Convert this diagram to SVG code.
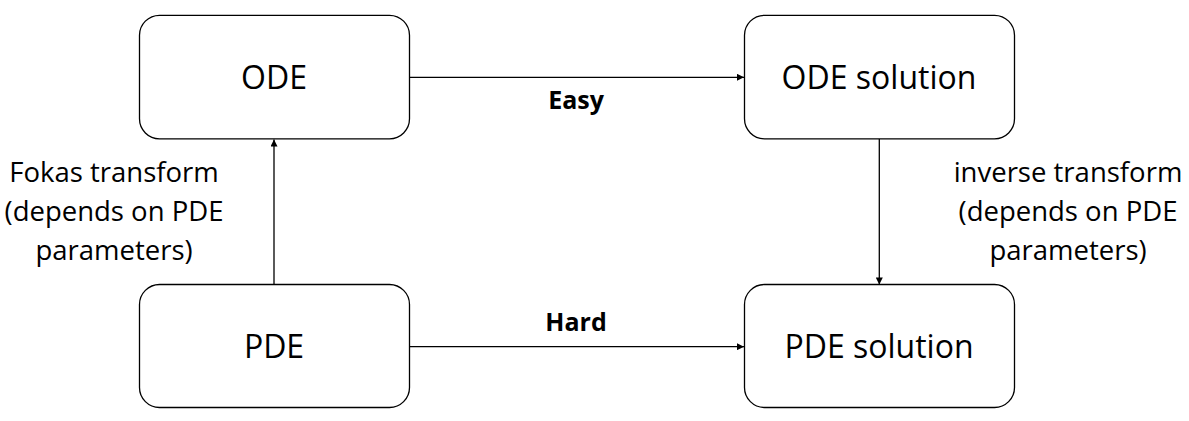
<svg xmlns="http://www.w3.org/2000/svg" width="1189" height="421" viewBox="0 0 1189 421">
<style>
.box{fill:#fff;stroke:#000;stroke-width:1.3}
.t{font-family:"Open Sans","Noto Sans",sans-serif;font-size:32px;fill:#000;text-anchor:middle}
.lbl{font-family:"Open Sans","Noto Sans",sans-serif;font-size:27.5px;fill:#000;text-anchor:middle}
.b{font-family:"Open Sans","Noto Sans",sans-serif;font-size:25px;font-weight:bold;fill:#000;text-anchor:middle}
.c{stroke:#000;stroke-width:1.3;fill:none;marker-end:url(#ah)}
</style>
<defs>
<marker id="ah" viewBox="0 0 10 10" refX="10" refY="5" markerWidth="9" markerHeight="7" markerUnits="userSpaceOnUse" orient="auto">
<path d="M0,0 L10,5 L0,10 z" fill="#000"/>
</marker>
</defs>
<rect width="1189" height="421" fill="#fff"/>
<g id="connectors">
<line class="c" x1="409.5" y1="77.3" x2="744" y2="77.3"/>
<line class="c" x1="409.5" y1="346.7" x2="744" y2="346.7"/>
<line class="c" x1="274" y1="284.5" x2="274" y2="139.5"/>
<line class="c" x1="879.3" y1="139" x2="879.3" y2="284.5"/>
<text class="b" x="576" y="109">Easy</text>
<text class="b" x="576" y="331">Hard</text>
<text class="lbl" x="114" y="182">Fokas transform</text>
<text class="lbl" x="114" y="221">(depends on PDE</text>
<text class="lbl" x="114" y="260">parameters)</text>
<text class="lbl" x="1068" y="182">inverse transform</text>
<text class="lbl" x="1068" y="221">(depends on PDE</text>
<text class="lbl" x="1068" y="260">parameters)</text>
</g>
<g id="ode">
<rect class="box" x="139.5" y="15.3" width="270" height="123.5" rx="20"/>
<text class="t" x="274" y="89">ODE</text>
</g>
<g id="ode-solution">
<rect class="box" x="744.5" y="15.3" width="270" height="123.5" rx="20"/>
<text class="t" x="879" y="89">ODE solution</text>
</g>
<g id="pde">
<rect class="box" x="139.5" y="284.5" width="270" height="123" rx="20"/>
<text class="t" x="274" y="358">PDE</text>
</g>
<g id="pde-solution">
<rect class="box" x="744.5" y="284.5" width="270" height="123" rx="20"/>
<text class="t" x="879" y="358">PDE solution</text>
</g>
</svg>
